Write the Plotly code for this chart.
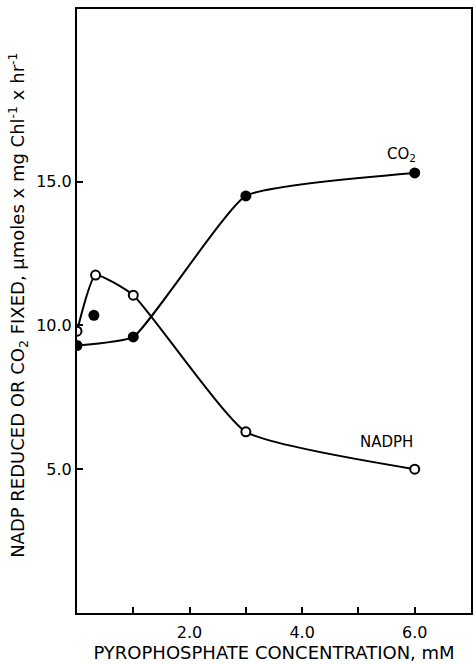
import plotly.graph_objects as go

# Data
co2_x = [0.0, 0.3, 1.0, 3.0, 6.0]
co2_y = [9.3, 10.35, 9.6, 14.5, 15.3]
co2_curve_x = [0.0, 1.0, 3.0, 6.0]
co2_curve_y = [9.3, 9.6, 14.5, 15.3]

nadph_x = [0.0, 0.33, 1.0, 3.0, 6.0]
nadph_y = [9.8, 11.75, 11.05, 6.3, 5.0]

x_ticks = [1, 2, 3, 4, 5, 6]
x_ticklabels = ["", "2.0", "", "4.0", "", "6.0"]
y_ticks = [5, 10, 15]
y_ticklabels = ["5.0", "10.0", "15.0"]

FONT = "DejaVu Sans, Liberation Sans, sans-serif"

fig = go.Figure()
fig.add_trace(go.Scatter(x=co2_curve_x, y=co2_curve_y, mode="lines",
                         line=dict(color="black", width=2, shape="spline", smoothing=0.4),
                         showlegend=False, hoverinfo="skip"))
fig.add_trace(go.Scatter(x=nadph_x, y=nadph_y, mode="lines",
                         line=dict(color="black", width=2, shape="spline", smoothing=0.45),
                         showlegend=False, hoverinfo="skip"))
fig.add_trace(go.Scatter(x=co2_x, y=co2_y, mode="markers", name="CO2",
                         marker=dict(symbol="circle", size=11, color="black"),
                         showlegend=False))
fig.add_trace(go.Scatter(x=nadph_x, y=nadph_y, mode="markers", name="NADPH",
                         marker=dict(symbol="circle", size=9, color="white",
                                     line=dict(color="black", width=2)),
                         showlegend=False))

fig.add_annotation(x=5.77, y=15.95, text="CO<sub>2</sub>", showarrow=False,
                   font=dict(family=FONT, size=15, color="black"))
fig.add_annotation(x=5.5, y=5.95, text="NADPH", showarrow=False,
                   font=dict(family=FONT, size=15, color="black"))

fig.add_annotation(xref="paper", yref="paper", x=-0.15, y=0.51,
                   xanchor="center", yanchor="middle", textangle=-90,
                   text="NADP REDUCED OR CO<sub>2</sub> FIXED, &#956;moles x mg Chl<sup>-1</sup> x hr<sup>-1</sup>",
                   showarrow=False, font=dict(family=FONT, size=18, color="black"))

fig.update_layout(
    width=475, height=664,
    margin=dict(l=77, r=2, t=9, b=51),
    plot_bgcolor="white", paper_bgcolor="white",
    font=dict(family=FONT, size=16, color="black"),
    xaxis=dict(range=[0, 7], tickvals=x_ticks, ticktext=x_ticklabels,
               ticks="inside", ticklen=6, tickwidth=2, tickcolor="black",
               showline=True, linecolor="black", linewidth=2, mirror=True,
               showgrid=False, zeroline=False,
               title=dict(text="PYROPHOSPHATE CONCENTRATION, mM",
                          font=dict(family=FONT, size=18), standoff=1),
               tickfont=dict(family=FONT, size=16), ticklabelstandoff=4),
    yaxis=dict(range=[0, 21], tickvals=y_ticks, ticktext=y_ticklabels,
               ticks="inside", ticklen=6, tickwidth=2, tickcolor="black",
               showline=True, linecolor="black", linewidth=2, mirror=True,
               showgrid=False, zeroline=False,
               tickfont=dict(family=FONT, size=16)),
)

fig.write_html("out.html")
